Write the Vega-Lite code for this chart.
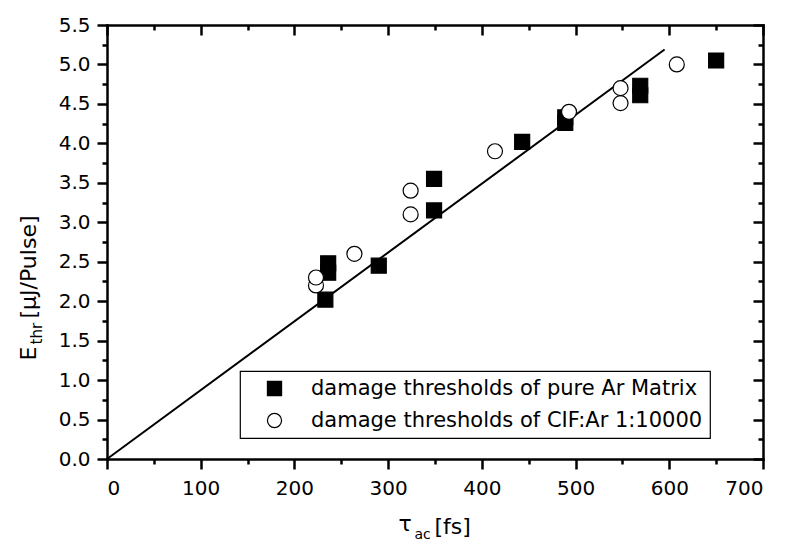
{
  "$schema": "https://vega.github.io/schema/vega-lite/v6.json",
  "width": 656,
  "height": 434,
  "autosize": {"type": "none"},
  "padding": {"left": 107, "top": 25, "right": 23, "bottom": 84},
  "background": "white",
  "config": {
    "view": {"stroke": null},
    "font": "DejaVu Sans",
    "axis": {
      "grid": false,
      "domainColor": "black",
      "tickColor": "black",
      "domainWidth": 2.5,
      "tickWidth": 2.5,
      "domainCap": "square",
      "labelColor": "black",
      "labelFont": "DejaVu Sans",
      "labelFontSize": 20,
      "titleFont": "DejaVu Sans",
      "titleFontWeight": "normal",
      "titleColor": "black",
      "titleFontSize": 22
    },
    "legend": {
      "orient": "none",
      "legendX": 133,
      "legendY": 346,
      "strokeColor": "black",
      "strokeWidth": 1.2,
      "fillColor": "white",
      "padding": 7,
      "labelFont": "DejaVu Sans",
      "labelFontSize": 21,
      "labelColor": "black",
      "labelLimit": 600,
      "rowPadding": 10,
      "symbolOffset": 17,
      "labelOffset": 26,
      "symbolStrokeWidth": 1.2,
      "symbolSize": 200
    }
  },
  "datasets": {
    "pts": [
      {"tau": 233, "E": 2.02, "series": "damage thresholds of pure Ar Matrix"},
      {"tau": 236, "E": 2.36, "series": "damage thresholds of pure Ar Matrix"},
      {"tau": 236, "E": 2.48, "series": "damage thresholds of pure Ar Matrix"},
      {"tau": 290, "E": 2.45, "series": "damage thresholds of pure Ar Matrix"},
      {"tau": 349, "E": 3.15, "series": "damage thresholds of pure Ar Matrix"},
      {"tau": 349, "E": 3.55, "series": "damage thresholds of pure Ar Matrix"},
      {"tau": 443, "E": 4.02, "series": "damage thresholds of pure Ar Matrix"},
      {"tau": 489, "E": 4.26, "series": "damage thresholds of pure Ar Matrix"},
      {"tau": 489, "E": 4.33, "series": "damage thresholds of pure Ar Matrix"},
      {"tau": 569, "E": 4.61, "series": "damage thresholds of pure Ar Matrix"},
      {"tau": 569, "E": 4.73, "series": "damage thresholds of pure Ar Matrix"},
      {"tau": 650, "E": 5.05, "series": "damage thresholds of pure Ar Matrix"},
      {"tau": 223, "E": 2.2, "series": "damage thresholds of CIF:Ar 1:10000"},
      {"tau": 223, "E": 2.3, "series": "damage thresholds of CIF:Ar 1:10000"},
      {"tau": 264, "E": 2.6, "series": "damage thresholds of CIF:Ar 1:10000"},
      {"tau": 324, "E": 3.1, "series": "damage thresholds of CIF:Ar 1:10000"},
      {"tau": 324, "E": 3.4, "series": "damage thresholds of CIF:Ar 1:10000"},
      {"tau": 414, "E": 3.9, "series": "damage thresholds of CIF:Ar 1:10000"},
      {"tau": 493, "E": 4.4, "series": "damage thresholds of CIF:Ar 1:10000"},
      {"tau": 548, "E": 4.51, "series": "damage thresholds of CIF:Ar 1:10000"},
      {"tau": 548, "E": 4.7, "series": "damage thresholds of CIF:Ar 1:10000"},
      {"tau": 608, "E": 5.0, "series": "damage thresholds of CIF:Ar 1:10000"}
    ],
    "fit": [
      {"tau": 0, "E": 0},
      {"tau": 595, "E": 5.19}
    ]
  },
  "resolve": {"axis": {"x": "independent", "y": "independent"}},
  "layer": [
    {
      "data": {"name": "fit"},
      "mark": {"type": "line", "color": "black", "strokeWidth": 2},
      "encoding": {
        "x": {
          "field": "tau", "type": "quantitative",
          "scale": {"domain": [0, 700], "nice": false, "zero": false},
          "axis": {
            "orient": "top", "values": [0, 100, 200, 300, 400, 500, 600, 700],
            "labels": false, "tickSize": -10,
            "title": "[fs]", "titleX": 327, "titleY": 508, "titleAlign": "left",
            "titleBaseline": "alphabetic", "titleAngle": 0
          }
        },
        "y": {
          "field": "E", "type": "quantitative",
          "scale": {"domain": [0, 5.5], "nice": false, "zero": false},
          "axis": {
            "orient": "right", "values": [0, 0.5, 1, 1.5, 2, 2.5, 3, 3.5, 4, 4.5, 5, 5.5],
            "labels": false, "tickSize": -10,
            "title": "[μJ/Pulse]", "titleAngle": -90, "titleX": -728, "titleY": 293,
            "titleAlign": "left", "titleBaseline": "alphabetic"
          }
        }
      }
    },
    {
      "data": {"name": "fit"},
      "mark": {"type": "line", "color": "black", "strokeOpacity": 0},
      "encoding": {
        "x": {
          "field": "tau", "type": "quantitative",
          "scale": {"domain": [0, 700], "nice": false, "zero": false},
          "axis": {
            "orient": "bottom", "values": [50, 150, 250, 350, 450, 550, 650],
            "labels": false, "domain": false, "tickSize": 5,
            "title": "ac", "titleFontSize": 14, "titleX": 307, "titleY": 79, "titleAlign": "left",
            "titleBaseline": "alphabetic", "titleAngle": 0
          }
        },
        "y": {
          "field": "E", "type": "quantitative",
          "scale": {"domain": [0, 5.5], "nice": false, "zero": false},
          "axis": {
            "orient": "left", "values": [0.25, 0.75, 1.25, 1.75, 2.25, 2.75, 3.25, 3.75, 4.25, 4.75, 5.25],
            "labels": false, "domain": false, "tickSize": 5,
            "title": "thr", "titleFontSize": 15, "titleAngle": -90, "titleX": -66, "titleY": 319,
            "titleAlign": "left", "titleBaseline": "alphabetic"
          }
        }
      }
    },
    {
      "data": {"name": "fit"},
      "mark": {"type": "line", "color": "black", "strokeOpacity": 0},
      "encoding": {
        "x": {
          "field": "tau", "type": "quantitative",
          "scale": {"domain": [0, 700], "nice": false, "zero": false},
          "axis": {
            "orient": "top", "values": [50, 150, 250, 350, 450, 550, 650],
            "labels": false, "domain": false, "tickSize": -5, "title": null
          }
        },
        "y": {
          "field": "E", "type": "quantitative",
          "scale": {"domain": [0, 5.5], "nice": false, "zero": false},
          "axis": {
            "orient": "right", "values": [0.25, 0.75, 1.25, 1.75, 2.25, 2.75, 3.25, 3.75, 4.25, 4.75, 5.25],
            "labels": false, "domain": false, "tickSize": -5, "title": null
          }
        }
      }
    },
    {
      "data": {"name": "pts"},
      "mark": {"type": "point", "filled": true, "size": 225, "strokeWidth": 1.2, "opacity": 1},
      "encoding": {
        "x": {
          "field": "tau", "type": "quantitative",
          "scale": {"domain": [0, 700], "nice": false, "zero": false},
          "axis": {
            "orient": "bottom", "values": [0, 100, 200, 300, 400, 500, 600, 700],
            "tickSize": 10, "labelPadding": 9, "format": "d",
            "title": "τ", "titleX": 291, "titleY": 71, "titleAlign": "left",
            "titleBaseline": "alphabetic", "titleAngle": 0
          }
        },
        "y": {
          "field": "E", "type": "quantitative",
          "scale": {"domain": [0, 5.5], "nice": false, "zero": false},
          "axis": {
            "orient": "left", "values": [0, 0.5, 1, 1.5, 2, 2.5, 3, 3.5, 4, 4.5, 5, 5.5],
            "tickSize": 10, "labelPadding": 7, "format": ".1f",
            "title": "E", "titleAngle": -90, "titleX": -72, "titleY": 335,
            "titleAlign": "left", "titleBaseline": "alphabetic"
          }
        },
        "shape": {
          "field": "series", "type": "nominal",
          "scale": {
            "domain": ["damage thresholds of pure Ar Matrix", "damage thresholds of CIF:Ar 1:10000"],
            "range": ["square", "circle"]
          },
          "legend": {"title": null}
        },
        "fill": {
          "field": "series", "type": "nominal",
          "scale": {
            "domain": ["damage thresholds of pure Ar Matrix", "damage thresholds of CIF:Ar 1:10000"],
            "range": ["black", "white"]
          },
          "legend": {"title": null}
        },
        "stroke": {
          "field": "series", "type": "nominal",
          "scale": {
            "domain": ["damage thresholds of pure Ar Matrix", "damage thresholds of CIF:Ar 1:10000"],
            "range": ["black", "black"]
          },
          "legend": {"title": null}
        }
      }
    }
  ]
}
